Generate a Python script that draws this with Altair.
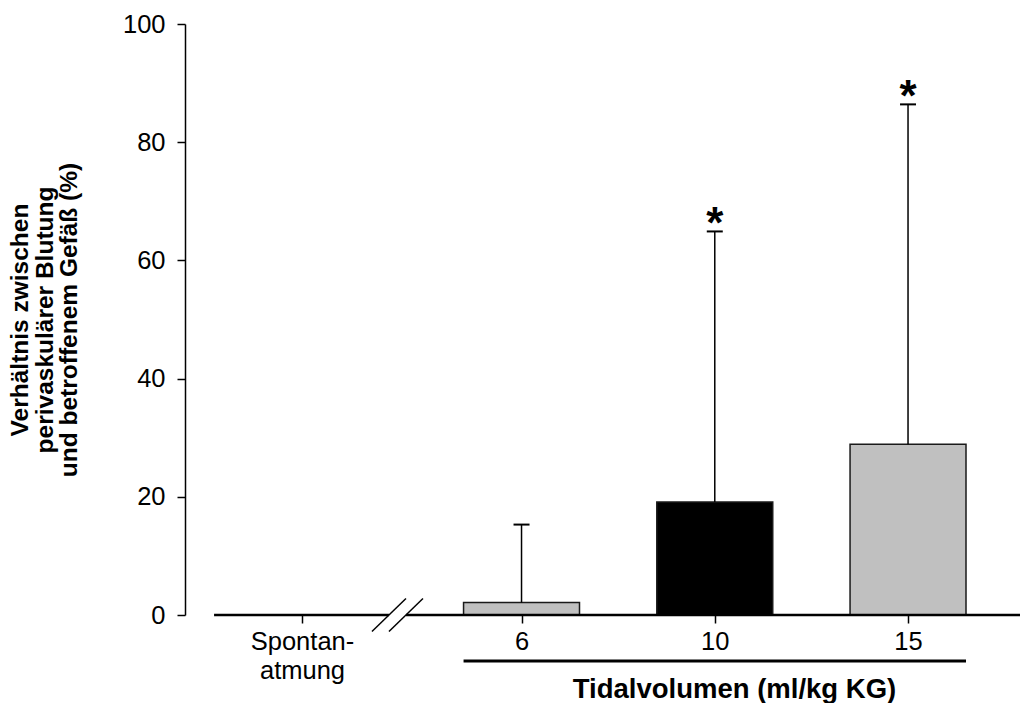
import altair as alt
import pandas as pd

# --- data -----------------------------------------------------------------
groups = ["Spontan-\natmung", "6", "10", "15"]
means = [0.0, 2.1, 19.1, 28.9]          # % ratio, bar height
sds = [0.0, 13.2, 45.8, 57.5]           # upper SD whisker
significant = [False, False, True, True]
fills = ["#c0c0c0", "#c0c0c0", "#000000", "#c0c0c0"]

y_ticks = [0, 20, 40, 60, 80, 100]
y_title = ["Verhältnis zwischen", "perivaskulärer Blutung", "und betroffenem Gefäß (%)"]
x_title = "Tidalvolumen (ml/kg KG)"

# --- layout in x units (one unit = spacing between neighbouring groups) ----
BREAK_SHIFT = 0.136      # extra room after the axis break
BAR_HALF = 0.30
CAP_HALF = 0.0414
X_DOMAIN = [-0.6054, 3.7154]
AXIS_START = -0.455
BREAK_AT = [0.450, 0.538]
SLASH_DX, SLASH_DY = 0.088, 2.79
UNDERLINE_Y = -7.78

pos = [i + (BREAK_SHIFT if i > 0 else 0.0) for i in range(len(groups))]

df = pd.DataFrame({
    "group": groups,
    "pos": pos,
    "mean": means,
    "upper": [m + s for m, s in zip(means, sds)],
    "sig": significant,
    "fill": fills,
})
df["xl"] = df["pos"] - BAR_HALF
df["xr"] = df["pos"] + BAR_HALF
df["cl"] = df["pos"] - CAP_HALF
df["cr"] = df["pos"] + CAP_HALF
df["zero"] = 0.0

bars_df = df[df["mean"] > 0]

# label lookup for the x axis ticks
parts = []
for p, g in zip(pos, groups):
    lines = g.split("\n")
    txt = "[" + ",".join("'" + s + "'" for s in lines) + "]" if len(lines) > 1 else "'" + g + "'"
    parts.append((p, txt))
expr = parts[-1][1]
for p, txt in reversed(parts[:-1]):
    expr = f"datum.value < {p + 0.5:.3f} ? {txt} : ({expr})"

FONT = "Liberation Sans"

xscale = alt.Scale(domain=X_DOMAIN, nice=False, zero=False)
yscale = alt.Scale(domain=[0, 100], nice=False, zero=False)

xaxis = alt.Axis(
    values=pos, labelExpr=expr, domain=False, grid=False,
    ticks=True, tickSize=8, tickWidth=1.5, tickColor="black",
    labelFont=FONT, labelFontSize=25.5, labelColor="black", labelPadding=6,
    labelLineHeight=29, labelBaseline="top",
    title=x_title, titleFont=FONT, titleFontSize=27.5, titleFontWeight="bold",
    titleColor="black", titleX=549, titleY=82, titleAlign="center",
    titleBaseline="alphabetic",
)
yaxis = alt.Axis(
    values=y_ticks, grid=False, domain=True, domainColor="black", domainWidth=1.5,
    ticks=True, tickSize=8, tickWidth=1.5, tickColor="black",
    labelFont=FONT, labelFontSize=25.5, labelColor="black", labelPadding=12,
    title=y_title, titleFont=FONT, titleFontSize=24.5, titleFontWeight="bold",
    titleColor="black", titleLineHeight=24.5, titleAngle=270, titleX=-164.5,
    titleY=295.5, titleAlign="center", titleBaseline="middle",
)


def X(field):
    return alt.X(f"{field}:Q", scale=xscale, axis=xaxis)


def Y(field):
    return alt.Y(f"{field}:Q", scale=yscale, axis=yaxis)


bars = alt.Chart(bars_df).mark_bar(stroke="#1a1a1a", strokeWidth=1.5).encode(
    x=X("xl"), x2="xr", y=Y("mean"), y2="zero",
    fill=alt.Fill("fill:N", scale=None),
)

err = alt.Chart(bars_df).mark_rule(color="black", strokeWidth=1.5).encode(
    x=X("pos"), y=Y("mean"), y2="upper",
)

caps = alt.Chart(bars_df).mark_rule(color="black", strokeWidth=2).encode(
    x=X("cl"), x2="cr", y=Y("upper"),
)

stars = alt.Chart(df[df["sig"]]).mark_text(
    text="*", font=FONT, fontSize=44, fontWeight="bold", color="black",
    baseline="alphabetic", dy=7,
).encode(x=X("pos"), y=Y("upper"))

# horizontal axis with a break between the control and the ventilated groups
axis_df = pd.DataFrame({
    "x": [AXIS_START, BREAK_AT[1]],
    "x2": [BREAK_AT[0], X_DOMAIN[1]],
    "y": [0.0, 0.0],
})
axis_line = alt.Chart(axis_df).mark_rule(color="black", strokeWidth=2.5).encode(
    x=X("x"), x2="x2", y=Y("y"),
)

slash_df = pd.DataFrame({
    "x": [b - SLASH_DX for b in BREAK_AT],
    "x2": [b + SLASH_DX for b in BREAK_AT],
    "y": [-SLASH_DY, -SLASH_DY],
    "y2": [SLASH_DY, SLASH_DY],
})
slashes = alt.Chart(slash_df).mark_rule(color="black", strokeWidth=1.5).encode(
    x=X("x"), x2="x2", y=Y("y"), y2="y2",
)

# bracket line under the tidal volume groups
ul_df = pd.DataFrame({
    "x": [df["xl"].iloc[1]],
    "x2": [df["xr"].iloc[-1]],
    "y": [UNDERLINE_Y],
})
underline = alt.Chart(ul_df).mark_rule(color="black", strokeWidth=3).encode(
    x=X("x"), x2="x2", y=Y("y"),
)

chart = alt.layer(bars, err, caps, stars, axis_line, slashes, underline).properties(
    width=835, height=591,
    autosize=alt.AutoSizeParams(type="none"),
    padding={"left": 185, "top": 24, "right": 7, "bottom": 88},
    background="white",
).configure_view(strokeWidth=0)

chart.save("out.html", embed_options={"renderer": "svg", "actions": False})
